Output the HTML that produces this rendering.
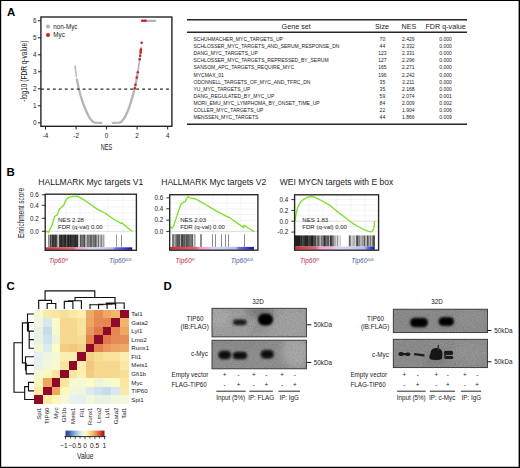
<!DOCTYPE html>
<html><head><meta charset="utf-8"><title>Figure</title>
<style>
html,body{margin:0;padding:0;background:#fff;}
body{width:520px;height:468px;overflow:hidden;font-family:"Liberation Sans",sans-serif;}
svg{display:block;font-family:"Liberation Sans",sans-serif;}
text{fill:#1a1a1a;}
.pl{font-weight:bold;font-size:11.4px;fill:#000;}
.tk{font-size:6.3px;}
.tb{font-size:5.02px;}
.th{font-size:7.2px;}
.tt{font-size:8.5px;}
.sm{font-size:6.05px;}
.hm{font-size:6.15px;}
.bl{font-size:6.3px;}
</style></head><body>
<svg width="520" height="468" viewBox="0 0 520 468">
<defs>
<filter id="b1" x="-30%" y="-60%" width="160%" height="220%"><feGaussianBlur stdDeviation="0.85"/></filter>
<filter id="b4" x="-40%" y="-80%" width="180%" height="260%"><feGaussianBlur stdDeviation="1.5"/></filter>
<filter id="b2" x="-30%" y="-60%" width="160%" height="220%"><feGaussianBlur stdDeviation="0.6"/></filter>
<filter id="b3" x="-30%" y="-60%" width="160%" height="220%"><feGaussianBlur stdDeviation="3"/></filter>
<filter id="nz" x="0" y="0" width="100%" height="100%" color-interpolation-filters="sRGB"><feTurbulence type="fractalNoise" baseFrequency="0.9" numOctaves="2" seed="3" result="n"/><feColorMatrix type="matrix" values="1.6 0 0 0 -0.3  1.6 0 0 0 -0.3  1.6 0 0 0 -0.3  0 0 0 0 0.105"/></filter>
<linearGradient id="cb" x1="0" x2="1" y1="0" y2="0">
<stop offset="0" stop-color="#2a3a8f"/><stop offset="0.1" stop-color="#4068ae"/><stop offset="0.25" stop-color="#8fbcd9"/><stop offset="0.4" stop-color="#dcecf0"/><stop offset="0.5" stop-color="#fdfdc8"/><stop offset="0.62" stop-color="#f8dc90"/><stop offset="0.75" stop-color="#eea35f"/><stop offset="0.88" stop-color="#d4502e"/><stop offset="1" stop-color="#8e0a26"/>
</linearGradient>
<linearGradient id="g1" x1="0" x2="1"><stop offset="0.000" stop-color="#cf2f3a"/><stop offset="0.172" stop-color="#d84a55"/><stop offset="0.325" stop-color="#de6a78"/><stop offset="0.365" stop-color="#eaa2cc"/><stop offset="0.460" stop-color="#eab4dc"/><stop offset="0.500" stop-color="#dccff2"/><stop offset="0.635" stop-color="#cfcff6"/><stop offset="0.770" stop-color="#b8b8f2"/><stop offset="0.810" stop-color="#7070e6"/><stop offset="0.895" stop-color="#4a4ad8"/><stop offset="1.000" stop-color="#0c0ca8"/></linearGradient>
<linearGradient id="g2" x1="0" x2="1"><stop offset="0.000" stop-color="#cf2f3a"/><stop offset="0.170" stop-color="#d84a55"/><stop offset="0.320" stop-color="#de6a78"/><stop offset="0.360" stop-color="#eaa2cc"/><stop offset="0.457" stop-color="#eab4dc"/><stop offset="0.497" stop-color="#dccff2"/><stop offset="0.639" stop-color="#cfcff6"/><stop offset="0.780" stop-color="#b8b8f2"/><stop offset="0.820" stop-color="#7070e6"/><stop offset="0.900" stop-color="#4a4ad8"/><stop offset="1.000" stop-color="#0c0ca8"/></linearGradient>
<linearGradient id="g3" x1="0" x2="1"><stop offset="0.000" stop-color="#cf2f3a"/><stop offset="0.143" stop-color="#d84a55"/><stop offset="0.266" stop-color="#de6a78"/><stop offset="0.306" stop-color="#eaa2cc"/><stop offset="0.470" stop-color="#eab4dc"/><stop offset="0.510" stop-color="#dccff2"/><stop offset="0.690" stop-color="#cfcff6"/><stop offset="0.870" stop-color="#b8b8f2"/><stop offset="0.910" stop-color="#7070e6"/><stop offset="0.945" stop-color="#4a4ad8"/><stop offset="1.000" stop-color="#0c0ca8"/></linearGradient>
</defs>
<rect x="0" y="0" width="520" height="468" fill="#fff"/>

<text class="pl" x="7.0" y="16.4">A</text>
<text class="pl" x="6.6" y="176.3">B</text>
<text class="pl" x="6.6" y="289.6">C</text>
<text class="pl" x="163.6" y="289.6">D</text>
<g fill="none" stroke="#b5b5b5" stroke-width="2.3" stroke-linecap="round" stroke-linejoin="round">
<path d="M76.8,79.4 L77.6,83.1 L78.9,89.0 L80.6,95.5 L82.2,100.7 L84.0,105.8 L86.0,110.8 L88.3,115.6 L90.6,119.3 L92.6,121.6 L94.4,122.6 L101.4,122.8"/>
<path d="M112.7,122.8 L119.6,122.6 L121.6,121.6 L123.4,119.3 L125.7,115.6 L128.0,110.5 L129.7,105.8 L131.3,100.7 L133.0,94.7 L134.7,88.8 L136.1,82.0 L137.4,74.3"/>
<path d="M137.4,74.3 L138.7,66.7 L139.7,59.0 L140.5,53.1 L141.1,47.6" stroke-width="1.7"/>
<path d="M146.3,20.8 L155.2,20.8"/>
</g>
<path d="M75.2,65.9 L75.6,70.9 L76.5,76.6" fill="none" stroke="#b8b8b8" stroke-width="1.5" stroke-linecap="round"/>
<circle cx="134.8" cy="88.2" r="1.25" fill="#cf1f1c"/>
<circle cx="135.5" cy="84.8" r="1.25" fill="#cf1f1c"/>
<circle cx="136.8" cy="77.4" r="1.25" fill="#cf1f1c"/>
<circle cx="137.8" cy="72.3" r="1.25" fill="#cf1f1c"/>
<circle cx="139.7" cy="59.3" r="1.25" fill="#cf1f1c"/>
<circle cx="140.2" cy="55.8" r="1.25" fill="#cf1f1c"/>
<circle cx="140.6" cy="52.7" r="1.25" fill="#cf1f1c"/>
<circle cx="140.7" cy="51.0" r="1.25" fill="#cf1f1c"/>
<circle cx="140.9" cy="49.5" r="1.25" fill="#cf1f1c"/>
<circle cx="141.6" cy="42.8" r="1.25" fill="#cf1f1c"/>
<circle cx="142.2" cy="20.8" r="1.25" fill="#cf1f1c"/>
<circle cx="144.0" cy="20.8" r="1.25" fill="#cf1f1c"/>
<circle cx="145.5" cy="20.8" r="1.25" fill="#cf1f1c"/>
<line x1="41.0" y1="89.0" x2="171.9" y2="89.0" stroke="#2a2a2a" stroke-width="1.25" stroke-dasharray="2.9,3.05"/>
<rect x="40.9" y="17.0" width="131.0" height="109.3" fill="none" stroke="#262626" stroke-width="1.4"/>
<line x1="37.9" y1="122.8" x2="40.9" y2="122.8" stroke="#1a1a1a" stroke-width="1"/>
<text class="tk" x="36.4" y="125.0" text-anchor="end">0</text>
<line x1="37.9" y1="105.8" x2="40.9" y2="105.8" stroke="#1a1a1a" stroke-width="1"/>
<text class="tk" x="36.4" y="108.0" text-anchor="end">1</text>
<line x1="37.9" y1="88.8" x2="40.9" y2="88.8" stroke="#1a1a1a" stroke-width="1"/>
<text class="tk" x="36.4" y="91.0" text-anchor="end">2</text>
<line x1="37.9" y1="71.8" x2="40.9" y2="71.8" stroke="#1a1a1a" stroke-width="1"/>
<text class="tk" x="36.4" y="74.0" text-anchor="end">3</text>
<line x1="37.9" y1="54.8" x2="40.9" y2="54.8" stroke="#1a1a1a" stroke-width="1"/>
<text class="tk" x="36.4" y="57.0" text-anchor="end">4</text>
<line x1="37.9" y1="37.8" x2="40.9" y2="37.8" stroke="#1a1a1a" stroke-width="1"/>
<text class="tk" x="36.4" y="40.0" text-anchor="end">5</text>
<line x1="37.9" y1="20.8" x2="40.9" y2="20.8" stroke="#1a1a1a" stroke-width="1"/>
<text class="tk" x="36.4" y="23.1" text-anchor="end">6</text>
<line x1="45.5" y1="126.3" x2="45.5" y2="129.5" stroke="#1a1a1a" stroke-width="1"/>
<text class="tk" x="45.5" y="137.9" text-anchor="middle">-4</text>
<line x1="76.1" y1="126.3" x2="76.1" y2="129.5" stroke="#1a1a1a" stroke-width="1"/>
<text class="tk" x="76.1" y="137.9" text-anchor="middle">-2</text>
<line x1="106.6" y1="126.3" x2="106.6" y2="129.5" stroke="#1a1a1a" stroke-width="1"/>
<text class="tk" x="106.6" y="137.9" text-anchor="middle">0</text>
<line x1="137.1" y1="126.3" x2="137.1" y2="129.5" stroke="#1a1a1a" stroke-width="1"/>
<text class="tk" x="137.1" y="137.9" text-anchor="middle">2</text>
<line x1="167.7" y1="126.3" x2="167.7" y2="129.5" stroke="#1a1a1a" stroke-width="1"/>
<text class="tk" x="167.7" y="137.9" text-anchor="middle">4</text>
<text x="106.5" y="149.7" text-anchor="middle" font-size="9.1" textLength="11.4" lengthAdjust="spacingAndGlyphs">NES</text>
<text transform="translate(26.6,71.2) rotate(-90)" text-anchor="middle" font-size="8.3" textLength="61" lengthAdjust="spacingAndGlyphs">-log10 (FDR q-value)</text>
<circle cx="48" cy="26.6" r="2.0" fill="#b0b0b0"/>
<circle cx="48" cy="35.1" r="2.0" fill="#d0211c"/>
<text class="tk" x="53.3" y="28.8">non-Myc</text>
<text class="tk" x="53.3" y="37.3">Myc</text>
<line x1="187.0" y1="19.75" x2="467.0" y2="19.75" stroke="#262626" stroke-width="1.5"/>
<line x1="187.0" y1="32.3" x2="467.0" y2="32.3" stroke="#262626" stroke-width="1.4"/>
<line x1="187.0" y1="124.2" x2="467.0" y2="124.2" stroke="#262626" stroke-width="1.5"/>
<text class="th" x="296.2" y="28.5" text-anchor="middle">Gene set</text>
<text class="th" x="382.0" y="28.5" text-anchor="middle">Size</text>
<text class="th" x="408.9" y="28.5" text-anchor="middle">NES</text>
<text class="th" x="445.6" y="28.5" text-anchor="middle">FDR q-value</text>
<text class="tb" x="193.5" y="40.95">SCHUHMACHER_MYC_TARGETS_UP</text>
<text class="tb" x="382.4" y="40.95" text-anchor="middle">70</text>
<text class="tb" x="408.3" y="40.95" text-anchor="middle">2.429</text>
<text class="tb" x="445.5" y="40.95" text-anchor="middle">0.000</text>
<text class="tb" x="193.5" y="48.06">SCHLOSSER_MYC_TARGETS_AND_SERUM_RESPONSE_DN</text>
<text class="tb" x="382.4" y="48.06" text-anchor="middle">44</text>
<text class="tb" x="408.3" y="48.06" text-anchor="middle">2.332</text>
<text class="tb" x="445.5" y="48.06" text-anchor="middle">0.000</text>
<text class="tb" x="193.5" y="55.17">DANG_MYC_TARGETS_UP</text>
<text class="tb" x="382.4" y="55.17" text-anchor="middle">123</text>
<text class="tb" x="408.3" y="55.17" text-anchor="middle">2.331</text>
<text class="tb" x="445.5" y="55.17" text-anchor="middle">0.000</text>
<text class="tb" x="193.5" y="62.28">SCHLOSSER_MYC_TARGETS_REPRESSED_BY_SERUM</text>
<text class="tb" x="382.4" y="62.28" text-anchor="middle">127</text>
<text class="tb" x="408.3" y="62.28" text-anchor="middle">2.296</text>
<text class="tb" x="445.5" y="62.28" text-anchor="middle">0.000</text>
<text class="tb" x="193.5" y="69.39">SANSOM_APC_TARGETS_REQUIRE_MYC</text>
<text class="tb" x="382.4" y="69.39" text-anchor="middle">165</text>
<text class="tb" x="408.3" y="69.39" text-anchor="middle">2.271</text>
<text class="tb" x="445.5" y="69.39" text-anchor="middle">0.000</text>
<text class="tb" x="193.5" y="76.50">MYCMAX_01</text>
<text class="tb" x="382.4" y="76.50" text-anchor="middle">196</text>
<text class="tb" x="408.3" y="76.50" text-anchor="middle">2.242</text>
<text class="tb" x="445.5" y="76.50" text-anchor="middle">0.000</text>
<text class="tb" x="193.5" y="83.61">ODONNELL_TARGETS_OF_MYC_AND_TFRC_DN</text>
<text class="tb" x="382.4" y="83.61" text-anchor="middle">35</text>
<text class="tb" x="408.3" y="83.61" text-anchor="middle">2.211</text>
<text class="tb" x="445.5" y="83.61" text-anchor="middle">0.000</text>
<text class="tb" x="193.5" y="90.72">YU_MYC_TARGETS_UP</text>
<text class="tb" x="382.4" y="90.72" text-anchor="middle">35</text>
<text class="tb" x="408.3" y="90.72" text-anchor="middle">2.168</text>
<text class="tb" x="445.5" y="90.72" text-anchor="middle">0.000</text>
<text class="tb" x="193.5" y="97.83">DANG_REGULATED_BY_MYC_UP</text>
<text class="tb" x="382.4" y="97.83" text-anchor="middle">59</text>
<text class="tb" x="408.3" y="97.83" text-anchor="middle">2.074</text>
<text class="tb" x="445.5" y="97.83" text-anchor="middle">0.001</text>
<text class="tb" x="193.5" y="104.94">MORI_EMU_MYC_LYMPHOMA_BY_ONSET_TIME_UP</text>
<text class="tb" x="382.4" y="104.94" text-anchor="middle">84</text>
<text class="tb" x="408.3" y="104.94" text-anchor="middle">2.009</text>
<text class="tb" x="445.5" y="104.94" text-anchor="middle">0.002</text>
<text class="tb" x="193.5" y="112.05">COLLER_MYC_TARGETS_UP</text>
<text class="tb" x="382.4" y="112.05" text-anchor="middle">22</text>
<text class="tb" x="408.3" y="112.05" text-anchor="middle">1.904</text>
<text class="tb" x="445.5" y="112.05" text-anchor="middle">0.006</text>
<text class="tb" x="193.5" y="119.16">MENSSEN_MYC_TARGETS</text>
<text class="tb" x="382.4" y="119.16" text-anchor="middle">44</text>
<text class="tb" x="408.3" y="119.16" text-anchor="middle">1.866</text>
<text class="tb" x="445.5" y="119.16" text-anchor="middle">0.009</text>
<text class="tt" x="90.8" y="184.5" text-anchor="middle">HALLMARK Myc targets V1</text>
<line x1="66.0" y1="194.2" x2="66.0" y2="233.6" stroke="#ececec" stroke-width="0.6"/>
<line x1="80.0" y1="194.2" x2="80.0" y2="233.6" stroke="#ececec" stroke-width="0.6"/>
<line x1="94.0" y1="194.2" x2="94.0" y2="233.6" stroke="#ececec" stroke-width="0.6"/>
<line x1="108.0" y1="194.2" x2="108.0" y2="233.6" stroke="#ececec" stroke-width="0.6"/>
<line x1="123.0" y1="194.2" x2="123.0" y2="233.6" stroke="#ececec" stroke-width="0.6"/>
<line x1="45.2" y1="200.5" x2="136.4" y2="200.5" stroke="#ececec" stroke-width="0.6"/>
<line x1="45.2" y1="207.0" x2="136.4" y2="207.0" stroke="#ececec" stroke-width="0.6"/>
<line x1="45.2" y1="213.0" x2="136.4" y2="213.0" stroke="#ececec" stroke-width="0.6"/>
<line x1="45.2" y1="219.5" x2="136.4" y2="219.5" stroke="#ececec" stroke-width="0.6"/>
<line x1="45.2" y1="225.5" x2="136.4" y2="225.5" stroke="#ececec" stroke-width="0.6"/>
<line x1="45.2" y1="231.3" x2="136.4" y2="231.3" stroke="#d0d0d0" stroke-width="0.7"/>
<rect x="48" y="234.6" width="1" height="12.8" fill="#909090"/>
<rect x="49" y="234.6" width="1" height="12.8" fill="#a7a7a7"/>
<rect x="50" y="234.6" width="1" height="12.8" fill="#434343"/>
<rect x="51" y="234.6" width="1" height="12.8" fill="#727272"/>
<rect x="52" y="234.6" width="1" height="12.8" fill="#333333"/>
<rect x="53" y="234.6" width="1" height="12.8" fill="#3b3b3b"/>
<rect x="54" y="234.6" width="1" height="12.8" fill="#484848"/>
<rect x="55" y="234.6" width="1" height="12.8" fill="#343434"/>
<rect x="56" y="234.6" width="1" height="12.8" fill="#494949"/>
<rect x="57" y="234.6" width="1" height="12.8" fill="#9f9f9f"/>
<rect x="58" y="234.6" width="1" height="12.8" fill="#c0c0c0"/>
<rect x="59" y="234.6" width="1" height="12.8" fill="#3f3f3f"/>
<rect x="60" y="234.6" width="1" height="12.8" fill="#333333"/>
<rect x="61" y="234.6" width="1" height="12.8" fill="#242424"/>
<rect x="62" y="234.6" width="1" height="12.8" fill="#3e3e3e"/>
<rect x="63" y="234.6" width="1" height="12.8" fill="#3a3a3a"/>
<rect x="64" y="234.6" width="1" height="12.8" fill="#2b2b2b"/>
<rect x="65" y="234.6" width="1" height="12.8" fill="#202020"/>
<rect x="66" y="234.6" width="1" height="12.8" fill="#5e5e5e"/>
<rect x="67" y="234.6" width="1" height="12.8" fill="#313131"/>
<rect x="68" y="234.6" width="1" height="12.8" fill="#1f1f1f"/>
<rect x="69" y="234.6" width="1" height="12.8" fill="#3c3c3c"/>
<rect x="70" y="234.6" width="1" height="12.8" fill="#232323"/>
<rect x="71" y="234.6" width="1" height="12.8" fill="#343434"/>
<rect x="72" y="234.6" width="1" height="12.8" fill="#393939"/>
<rect x="73" y="234.6" width="1" height="12.8" fill="#3a3a3a"/>
<rect x="74" y="234.6" width="1" height="12.8" fill="#343434"/>
<rect x="75" y="234.6" width="1" height="12.8" fill="#242424"/>
<rect x="76" y="234.6" width="1" height="12.8" fill="#383838"/>
<rect x="77" y="234.6" width="1" height="12.8" fill="#2b2b2b"/>
<rect x="78" y="234.6" width="1" height="12.8" fill="#bdbdbd"/>
<rect x="79" y="234.6" width="1" height="12.8" fill="#cfcfcf"/>
<rect x="80" y="234.6" width="1" height="12.8" fill="#535353"/>
<rect x="81" y="234.6" width="1" height="12.8" fill="#747474"/>
<rect x="82" y="234.6" width="1" height="12.8" fill="#747474"/>
<rect x="83" y="234.6" width="1" height="12.8" fill="#6a6a6a"/>
<rect x="84" y="234.6" width="1" height="12.8" fill="#4a4a4a"/>
<rect x="85" y="234.6" width="1" height="12.8" fill="#ababab"/>
<rect x="86" y="234.6" width="1" height="12.8" fill="#b5b5b5"/>
<rect x="87" y="234.6" width="1" height="12.8" fill="#707070"/>
<rect x="88" y="234.6" width="1" height="12.8" fill="#7c7c7c"/>
<rect x="89" y="234.6" width="1" height="12.8" fill="#8a8a8a"/>
<rect x="90" y="234.6" width="1" height="12.8" fill="#5d5d5d"/>
<rect x="91" y="234.6" width="1" height="12.8" fill="#666666"/>
<rect x="92" y="234.6" width="1" height="12.8" fill="#8f8f8f"/>
<rect x="93" y="234.6" width="1" height="12.8" fill="#717171"/>
<rect x="94" y="234.6" width="1" height="12.8" fill="#767676"/>
<rect x="95" y="234.6" width="1" height="12.8" fill="#565656"/>
<rect x="96" y="234.6" width="1" height="12.8" fill="#878787"/>
<rect x="97" y="234.6" width="1" height="12.8" fill="#b8b8b8"/>
<rect x="98" y="234.6" width="1" height="12.8" fill="#6a6a6a"/>
<rect x="99" y="234.6" width="1" height="12.8" fill="#cbcbcb"/>
<rect x="100" y="234.6" width="1" height="12.8" fill="#a9a9a9"/>
<rect x="101" y="234.6" width="1" height="12.8" fill="#838383"/>
<rect x="102" y="234.6" width="1" height="12.8" fill="#c7c7c7"/>
<rect x="103" y="234.6" width="1" height="12.8" fill="#a1a1a1"/>
<rect x="104" y="234.6" width="1" height="12.8" fill="#d4d4d4"/>
<rect x="116" y="234.6" width="1" height="12.8" fill="#9a9a9a"/>
<rect x="121" y="234.6" width="1" height="12.8" fill="#8e8e8e"/>
<rect x="45.6" y="247.3" width="86.6" height="2.6" fill="url(#g1)"/>
<path d="M45.9,231.9 L47.4,231.4 L48.6,232.4 L49.8,229.5 L51.2,227.1 L52.7,222.8 L54.1,218.0 L55.1,216.0 L57.0,215.1 L57.9,212.7 L59.4,209.3 L61.8,206.9 L63.7,205.5 L64.7,202.6 L66.6,199.2 L69.0,197.3 L72.8,196.3 L77.2,196.1 L79.6,197.3 L84.4,200.2 L89.2,203.5 L94.0,206.9 L98.0,209.6 L102.0,211.6 L105.0,213.0 L110.0,216.6 L115.0,220.0 L119.0,222.0 L121.0,223.4 L122.0,223.0 L124.0,224.8 L128.0,228.0 L132.2,231.2" fill="none" stroke="#7ce02c" stroke-width="1.35" stroke-linejoin="round"/>
<rect x="45.2" y="194.2" width="91.2" height="56.1" fill="none" stroke="#242424" stroke-width="1.35"/>
<line x1="41.9" y1="194.8" x2="45.2" y2="194.8" stroke="#1a1a1a" stroke-width="0.9"/>
<text class="tk" x="38.8" y="197.1" text-anchor="end">0.6</text>
<line x1="41.9" y1="205.3" x2="45.2" y2="205.3" stroke="#1a1a1a" stroke-width="0.9"/>
<text class="tk" x="38.8" y="207.6" text-anchor="end">0.4</text>
<line x1="41.9" y1="218.3" x2="45.2" y2="218.3" stroke="#1a1a1a" stroke-width="0.9"/>
<text class="tk" x="38.8" y="220.6" text-anchor="end">0.2</text>
<line x1="41.9" y1="231.3" x2="45.2" y2="231.3" stroke="#1a1a1a" stroke-width="0.9"/>
<text class="tk" x="38.8" y="233.6" text-anchor="end">0.0</text>
<text class="sm" x="58.0" y="221.6">NES 2.28</text>
<text class="sm" x="58.0" y="229.2">FDR (q-val) 0.00</text>
<text x="58.5" y="263" text-anchor="middle" font-size="6.45" font-style="italic" style="fill:#c4244a">Tip60<tspan font-size="3.7" dy="-2.4">f/f</tspan></text>
<text x="120.5" y="263" text-anchor="middle" font-size="6.45" font-style="italic" style="fill:#3d59a2">Tip60<tspan font-size="4.0" dy="-2.4">Δ/Δ</tspan></text>
<text transform="translate(23.5,213) rotate(-90)" text-anchor="middle" font-size="9" textLength="50" lengthAdjust="spacingAndGlyphs">Enrichment score</text>
<text class="tt" x="213.7" y="184.5" text-anchor="middle">HALLMARK Myc targets V2</text>
<line x1="185.0" y1="194.7" x2="185.0" y2="233.2" stroke="#ececec" stroke-width="0.6"/>
<line x1="199.0" y1="194.7" x2="199.0" y2="233.2" stroke="#ececec" stroke-width="0.6"/>
<line x1="213.0" y1="194.7" x2="213.0" y2="233.2" stroke="#ececec" stroke-width="0.6"/>
<line x1="227.0" y1="194.7" x2="227.0" y2="233.2" stroke="#ececec" stroke-width="0.6"/>
<line x1="241.0" y1="194.7" x2="241.0" y2="233.2" stroke="#ececec" stroke-width="0.6"/>
<line x1="169.7" y1="203.0" x2="257.9" y2="203.0" stroke="#ececec" stroke-width="0.6"/>
<line x1="169.7" y1="209.0" x2="257.9" y2="209.0" stroke="#ececec" stroke-width="0.6"/>
<line x1="169.7" y1="214.5" x2="257.9" y2="214.5" stroke="#ececec" stroke-width="0.6"/>
<line x1="169.7" y1="220.3" x2="257.9" y2="220.3" stroke="#ececec" stroke-width="0.6"/>
<line x1="169.7" y1="226.0" x2="257.9" y2="226.0" stroke="#ececec" stroke-width="0.6"/>
<line x1="169.7" y1="231.4" x2="257.9" y2="231.4" stroke="#d0d0d0" stroke-width="0.7"/>
<rect x="172" y="234.2" width="1" height="12.8" fill="#7f7f7f"/>
<rect x="173" y="234.2" width="1" height="12.8" fill="#777777"/>
<rect x="174" y="234.2" width="1" height="12.8" fill="#a9a9a9"/>
<rect x="175" y="234.2" width="1" height="12.8" fill="#8e8e8e"/>
<rect x="176" y="234.2" width="1" height="12.8" fill="#6e6e6e"/>
<rect x="177" y="234.2" width="1" height="12.8" fill="#545454"/>
<rect x="178" y="234.2" width="1" height="12.8" fill="#5b5b5b"/>
<rect x="179" y="234.2" width="1" height="12.8" fill="#5c5c5c"/>
<rect x="180" y="234.2" width="1" height="12.8" fill="#a7a7a7"/>
<rect x="181" y="234.2" width="1" height="12.8" fill="#4b4b4b"/>
<rect x="182" y="234.2" width="1" height="12.8" fill="#434343"/>
<rect x="183" y="234.2" width="1" height="12.8" fill="#636363"/>
<rect x="184" y="234.2" width="1" height="12.8" fill="#565656"/>
<rect x="185" y="234.2" width="1" height="12.8" fill="#7f7f7f"/>
<rect x="186" y="234.2" width="1" height="12.8" fill="#545454"/>
<rect x="187" y="234.2" width="1" height="12.8" fill="#585858"/>
<rect x="188" y="234.2" width="1" height="12.8" fill="#626262"/>
<rect x="189" y="234.2" width="1" height="12.8" fill="#717171"/>
<rect x="190" y="234.2" width="1" height="12.8" fill="#7b7b7b"/>
<rect x="191" y="234.2" width="1" height="12.8" fill="#747474"/>
<rect x="192" y="234.2" width="1" height="12.8" fill="#616161"/>
<rect x="193" y="234.2" width="1" height="12.8" fill="#dadada"/>
<rect x="194" y="234.2" width="1" height="12.8" fill="#a9a9a9"/>
<rect x="195" y="234.2" width="1" height="12.8" fill="#cacaca"/>
<rect x="200" y="234.2" width="1" height="12.8" fill="#8e8e8e"/>
<rect x="201" y="234.2" width="1" height="12.8" fill="#8e8e8e"/>
<rect x="212" y="234.2" width="1" height="12.8" fill="#8e8e8e"/>
<rect x="215" y="234.2" width="1" height="12.8" fill="#8e8e8e"/>
<rect x="221" y="234.2" width="1" height="12.8" fill="#8e8e8e"/>
<rect x="225" y="234.2" width="1" height="12.8" fill="#8e8e8e"/>
<rect x="228" y="234.2" width="1" height="12.8" fill="#8e8e8e"/>
<rect x="244" y="234.2" width="1" height="12.8" fill="#8e8e8e"/>
<rect x="170.1" y="246.9" width="83.8" height="2.9" fill="url(#g2)"/>
<path d="M170.3,226.8 L172.2,228.5 L173.7,225.7 L175.6,219.9 L177.5,214.1 L179.5,208.3 L180.9,204.5 L182.8,202.6 L185.2,201.6 L186.7,198.2 L188.1,196.8 L191.0,198.2 L194.8,198.7 L198.7,200.7 L204.5,204.0 L210.2,207.4 L216.0,210.8 L221.0,213.4 L226.5,216.3 L229.5,217.5 L233.0,220.0 L238.0,223.6 L241.5,226.0 L243.6,227.6 L243.9,225.3 L247.0,227.2 L250.0,229.2 L254.1,231.7" fill="none" stroke="#7ce02c" stroke-width="1.35" stroke-linejoin="round"/>
<rect x="169.7" y="194.7" width="88.2" height="55.5" fill="none" stroke="#242424" stroke-width="1.35"/>
<line x1="166.3" y1="197.8" x2="169.7" y2="197.8" stroke="#1a1a1a" stroke-width="0.9"/>
<text class="tk" x="163.2" y="200.1" text-anchor="end">0.6</text>
<line x1="166.3" y1="208.8" x2="169.7" y2="208.8" stroke="#1a1a1a" stroke-width="0.9"/>
<text class="tk" x="163.2" y="211.1" text-anchor="end">0.4</text>
<line x1="166.3" y1="220.1" x2="169.7" y2="220.1" stroke="#1a1a1a" stroke-width="0.9"/>
<text class="tk" x="163.2" y="222.4" text-anchor="end">0.2</text>
<line x1="166.3" y1="231.4" x2="169.7" y2="231.4" stroke="#1a1a1a" stroke-width="0.9"/>
<text class="tk" x="163.2" y="233.7" text-anchor="end">0.0</text>
<text class="sm" x="180.2" y="221.6">NES 2.03</text>
<text class="sm" x="180.2" y="229.2">FDR (q-val) 0.00</text>
<text x="185.0" y="263" text-anchor="middle" font-size="6.45" font-style="italic" style="fill:#c4244a">Tip60<tspan font-size="3.7" dy="-2.4">f/f</tspan></text>
<text x="242.0" y="263" text-anchor="middle" font-size="6.45" font-style="italic" style="fill:#3d59a2">Tip60<tspan font-size="4.0" dy="-2.4">Δ/Δ</tspan></text>
<text class="tt" x="336.5" y="184.5" text-anchor="middle">WEI MYCN targets with E box</text>
<line x1="309.0" y1="194.8" x2="309.0" y2="234.4" stroke="#ececec" stroke-width="0.6"/>
<line x1="323.0" y1="194.8" x2="323.0" y2="234.4" stroke="#ececec" stroke-width="0.6"/>
<line x1="337.0" y1="194.8" x2="337.0" y2="234.4" stroke="#ececec" stroke-width="0.6"/>
<line x1="351.0" y1="194.8" x2="351.0" y2="234.4" stroke="#ececec" stroke-width="0.6"/>
<line x1="365.0" y1="194.8" x2="365.0" y2="234.4" stroke="#ececec" stroke-width="0.6"/>
<line x1="294.6" y1="199.6" x2="378.6" y2="199.6" stroke="#ececec" stroke-width="0.6"/>
<line x1="294.6" y1="205.0" x2="378.6" y2="205.0" stroke="#ececec" stroke-width="0.6"/>
<line x1="294.6" y1="210.4" x2="378.6" y2="210.4" stroke="#ececec" stroke-width="0.6"/>
<line x1="294.6" y1="215.8" x2="378.6" y2="215.8" stroke="#ececec" stroke-width="0.6"/>
<line x1="294.6" y1="226.6" x2="378.6" y2="226.6" stroke="#ececec" stroke-width="0.6"/>
<line x1="294.6" y1="232.0" x2="378.6" y2="232.0" stroke="#ececec" stroke-width="0.6"/>
<line x1="294.6" y1="221.2" x2="378.6" y2="221.2" stroke="#d0d0d0" stroke-width="0.7"/>
<rect x="295" y="235.4" width="1" height="11.2" fill="#1e1e1e"/>
<rect x="296" y="235.4" width="1" height="11.2" fill="#1e1e1e"/>
<rect x="297" y="235.4" width="1" height="11.2" fill="#1e1e1e"/>
<rect x="298" y="235.4" width="1" height="11.2" fill="#1e1e1e"/>
<rect x="299" y="235.4" width="1" height="11.2" fill="#1e1e1e"/>
<rect x="300" y="235.4" width="1" height="11.2" fill="#3f3f3f"/>
<rect x="301" y="235.4" width="1" height="11.2" fill="#252525"/>
<rect x="302" y="235.4" width="1" height="11.2" fill="#505050"/>
<rect x="303" y="235.4" width="1" height="11.2" fill="#3c3c3c"/>
<rect x="304" y="235.4" width="1" height="11.2" fill="#363636"/>
<rect x="305" y="235.4" width="1" height="11.2" fill="#242424"/>
<rect x="306" y="235.4" width="1" height="11.2" fill="#282828"/>
<rect x="307" y="235.4" width="1" height="11.2" fill="#252525"/>
<rect x="308" y="235.4" width="1" height="11.2" fill="#454545"/>
<rect x="309" y="235.4" width="1" height="11.2" fill="#3e3e3e"/>
<rect x="310" y="235.4" width="1" height="11.2" fill="#414141"/>
<rect x="311" y="235.4" width="1" height="11.2" fill="#242424"/>
<rect x="312" y="235.4" width="1" height="11.2" fill="#202020"/>
<rect x="313" y="235.4" width="1" height="11.2" fill="#4c4c4c"/>
<rect x="314" y="235.4" width="1" height="11.2" fill="#4a4a4a"/>
<rect x="315" y="235.4" width="1" height="11.2" fill="#474747"/>
<rect x="316" y="235.4" width="1" height="11.2" fill="#919191"/>
<rect x="317" y="235.4" width="1" height="11.2" fill="#6f6f6f"/>
<rect x="318" y="235.4" width="1" height="11.2" fill="#616161"/>
<rect x="319" y="235.4" width="1" height="11.2" fill="#8d8d8d"/>
<rect x="320" y="235.4" width="1" height="11.2" fill="#afafaf"/>
<rect x="321" y="235.4" width="1" height="11.2" fill="#787878"/>
<rect x="322" y="235.4" width="1" height="11.2" fill="#7e7e7e"/>
<rect x="323" y="235.4" width="1" height="11.2" fill="#646464"/>
<rect x="324" y="235.4" width="1" height="11.2" fill="#303030"/>
<rect x="325" y="235.4" width="1" height="11.2" fill="#535353"/>
<rect x="326" y="235.4" width="1" height="11.2" fill="#6b6b6b"/>
<rect x="327" y="235.4" width="1" height="11.2" fill="#5d5d5d"/>
<rect x="328" y="235.4" width="1" height="11.2" fill="#555555"/>
<rect x="329" y="235.4" width="1" height="11.2" fill="#a9a9a9"/>
<rect x="330" y="235.4" width="1" height="11.2" fill="#373737"/>
<rect x="331" y="235.4" width="1" height="11.2" fill="#474747"/>
<rect x="332" y="235.4" width="1" height="11.2" fill="#727272"/>
<rect x="333" y="235.4" width="1" height="11.2" fill="#7d7d7d"/>
<rect x="334" y="235.4" width="1" height="11.2" fill="#b3b3b3"/>
<rect x="335" y="235.4" width="1" height="11.2" fill="#b2b2b2"/>
<rect x="336" y="235.4" width="1" height="11.2" fill="#dadada"/>
<rect x="337" y="235.4" width="1" height="11.2" fill="#939393"/>
<rect x="338" y="235.4" width="1" height="11.2" fill="#e0e0e0"/>
<rect x="339" y="235.4" width="1" height="11.2" fill="#dfdfdf"/>
<rect x="340" y="235.4" width="1" height="11.2" fill="#cccccc"/>
<rect x="348" y="235.4" width="1" height="11.2" fill="#e4e4e4"/>
<rect x="349" y="235.4" width="1" height="11.2" fill="#5f5f5f"/>
<rect x="350" y="235.4" width="1" height="11.2" fill="#888888"/>
<rect x="351" y="235.4" width="1" height="11.2" fill="#d1d1d1"/>
<rect x="352" y="235.4" width="1" height="11.2" fill="#c0c0c0"/>
<rect x="353" y="235.4" width="1" height="11.2" fill="#b1b1b1"/>
<rect x="354" y="235.4" width="1" height="11.2" fill="#afafaf"/>
<rect x="355" y="235.4" width="1" height="11.2" fill="#d5d5d5"/>
<rect x="356" y="235.4" width="1" height="11.2" fill="#636363"/>
<rect x="357" y="235.4" width="1" height="11.2" fill="#4c4c4c"/>
<rect x="358" y="235.4" width="1" height="11.2" fill="#878787"/>
<rect x="359" y="235.4" width="1" height="11.2" fill="#858585"/>
<rect x="360" y="235.4" width="1" height="11.2" fill="#b2b2b2"/>
<rect x="361" y="235.4" width="1" height="11.2" fill="#b0b0b0"/>
<rect x="362" y="235.4" width="1" height="11.2" fill="#959595"/>
<rect x="363" y="235.4" width="1" height="11.2" fill="#9d9d9d"/>
<rect x="364" y="235.4" width="1" height="11.2" fill="#5e5e5e"/>
<rect x="365" y="235.4" width="1" height="11.2" fill="#a9a9a9"/>
<rect x="366" y="235.4" width="1" height="11.2" fill="#b9b9b9"/>
<rect x="367" y="235.4" width="1" height="11.2" fill="#505050"/>
<rect x="368" y="235.4" width="1" height="11.2" fill="#808080"/>
<rect x="369" y="235.4" width="1" height="11.2" fill="#ababab"/>
<rect x="370" y="235.4" width="1" height="11.2" fill="#7e7e7e"/>
<rect x="371" y="235.4" width="1" height="11.2" fill="#b8b8b8"/>
<rect x="372" y="235.4" width="1" height="11.2" fill="#808080"/>
<rect x="373" y="235.4" width="1" height="11.2" fill="#4d4d4d"/>
<rect x="374" y="235.4" width="1" height="11.2" fill="#5a5a5a"/>
<rect x="295.0" y="246.5" width="79.7" height="3.3" fill="url(#g3)"/>
<path d="M295.2,220.8 L295.9,215.0 L297.1,209.2 L298.8,205.4 L300.7,202.0 L304.0,199.1 L307.9,197.2 L310.8,196.5 L314.6,197.2 L318.5,199.1 L323.3,201.5 L330.0,205.4 L335.8,210.2 L341.5,214.8 L347.3,219.3 L353.1,223.7 L358.8,227.0 L364.6,229.9 L368.5,231.3 L371.3,231.8 L372.8,230.4 L374.0,228.0 L374.4,224.6 L374.5,221.0" fill="none" stroke="#7ce02c" stroke-width="1.35" stroke-linejoin="round"/>
<rect x="294.6" y="194.8" width="84.0" height="55.4" fill="none" stroke="#242424" stroke-width="1.35"/>
<line x1="291.3" y1="199.6" x2="294.6" y2="199.6" stroke="#1a1a1a" stroke-width="0.9"/>
<text class="tk" x="288.2" y="201.9" text-anchor="end">0.4</text>
<line x1="291.3" y1="210.4" x2="294.6" y2="210.4" stroke="#1a1a1a" stroke-width="0.9"/>
<text class="tk" x="288.2" y="212.7" text-anchor="end">0.2</text>
<line x1="291.3" y1="221.2" x2="294.6" y2="221.2" stroke="#1a1a1a" stroke-width="0.9"/>
<text class="tk" x="288.2" y="223.6" text-anchor="end">0.0</text>
<line x1="291.3" y1="232.1" x2="294.6" y2="232.1" stroke="#1a1a1a" stroke-width="0.9"/>
<text class="tk" x="288.2" y="234.4" text-anchor="end">-0.2</text>
<text class="sm" x="302.3" y="221.6">NES 1.83</text>
<text class="sm" x="302.3" y="229.2">FDR (q-val) 0.00</text>
<text x="309.5" y="263" text-anchor="middle" font-size="6.45" font-style="italic" style="fill:#c4244a">Tip60<tspan font-size="3.7" dy="-2.4">f/f</tspan></text>
<text x="362.5" y="263" text-anchor="middle" font-size="6.45" font-style="italic" style="fill:#3d59a2">Tip60<tspan font-size="4.0" dy="-2.4">Δ/Δ</tspan></text>
<g shape-rendering="crispEdges">
<rect x="34.40" y="309.70" width="8.60" height="8.60" fill="#f5f8d8"/>
<rect x="42.95" y="309.70" width="8.60" height="8.60" fill="#fbe9a8"/>
<rect x="51.50" y="309.70" width="8.60" height="8.60" fill="#fbe6a0"/>
<rect x="60.05" y="309.70" width="8.60" height="8.60" fill="#f9e09a"/>
<rect x="68.60" y="309.70" width="8.60" height="8.60" fill="#fae8a5"/>
<rect x="77.15" y="309.70" width="8.60" height="8.60" fill="#fbeeb0"/>
<rect x="85.70" y="309.70" width="8.60" height="8.60" fill="#eeab66"/>
<rect x="94.25" y="309.70" width="8.60" height="8.60" fill="#e88d55"/>
<rect x="102.80" y="309.70" width="8.60" height="8.60" fill="#efa862"/>
<rect x="111.35" y="309.70" width="8.60" height="8.60" fill="#f1b56c"/>
<rect x="119.90" y="309.70" width="8.60" height="8.60" fill="#8e0a28"/>
<rect x="34.40" y="318.25" width="8.60" height="8.60" fill="#f1f6dc"/>
<rect x="42.95" y="318.25" width="8.60" height="8.60" fill="#d8e8ef"/>
<rect x="51.50" y="318.25" width="8.60" height="8.60" fill="#fbfbc8"/>
<rect x="60.05" y="318.25" width="8.60" height="8.60" fill="#f6d88e"/>
<rect x="68.60" y="318.25" width="8.60" height="8.60" fill="#f6d88e"/>
<rect x="77.15" y="318.25" width="8.60" height="8.60" fill="#f8e29c"/>
<rect x="85.70" y="318.25" width="8.60" height="8.60" fill="#eca562"/>
<rect x="94.25" y="318.25" width="8.60" height="8.60" fill="#e58a52"/>
<rect x="102.80" y="318.25" width="8.60" height="8.60" fill="#e5864f"/>
<rect x="111.35" y="318.25" width="8.60" height="8.60" fill="#8e0a28"/>
<rect x="119.90" y="318.25" width="8.60" height="8.60" fill="#f1b56c"/>
<rect x="34.40" y="326.80" width="8.60" height="8.60" fill="#e9f2e2"/>
<rect x="42.95" y="326.80" width="8.60" height="8.60" fill="#c5ddea"/>
<rect x="51.50" y="326.80" width="8.60" height="8.60" fill="#f5f8d0"/>
<rect x="60.05" y="326.80" width="8.60" height="8.60" fill="#f6d88e"/>
<rect x="68.60" y="326.80" width="8.60" height="8.60" fill="#f6d88e"/>
<rect x="77.15" y="326.80" width="8.60" height="8.60" fill="#f8e29c"/>
<rect x="85.70" y="326.80" width="8.60" height="8.60" fill="#e99a5a"/>
<rect x="94.25" y="326.80" width="8.60" height="8.60" fill="#e07848"/>
<rect x="102.80" y="326.80" width="8.60" height="8.60" fill="#8e0a28"/>
<rect x="111.35" y="326.80" width="8.60" height="8.60" fill="#e5864f"/>
<rect x="119.90" y="326.80" width="8.60" height="8.60" fill="#efa862"/>
<rect x="34.40" y="335.35" width="8.60" height="8.60" fill="#e9f2e2"/>
<rect x="42.95" y="335.35" width="8.60" height="8.60" fill="#cfe3ec"/>
<rect x="51.50" y="335.35" width="8.60" height="8.60" fill="#f0f5d8"/>
<rect x="60.05" y="335.35" width="8.60" height="8.60" fill="#f6d88e"/>
<rect x="68.60" y="335.35" width="8.60" height="8.60" fill="#f6d88e"/>
<rect x="77.15" y="335.35" width="8.60" height="8.60" fill="#f7dc94"/>
<rect x="85.70" y="335.35" width="8.60" height="8.60" fill="#e3844e"/>
<rect x="94.25" y="335.35" width="8.60" height="8.60" fill="#8e0a28"/>
<rect x="102.80" y="335.35" width="8.60" height="8.60" fill="#e07848"/>
<rect x="111.35" y="335.35" width="8.60" height="8.60" fill="#e58a52"/>
<rect x="119.90" y="335.35" width="8.60" height="8.60" fill="#e88d55"/>
<rect x="34.40" y="343.90" width="8.60" height="8.60" fill="#f3f7d8"/>
<rect x="42.95" y="343.90" width="8.60" height="8.60" fill="#dcebef"/>
<rect x="51.50" y="343.90" width="8.60" height="8.60" fill="#fcfcc5"/>
<rect x="60.05" y="343.90" width="8.60" height="8.60" fill="#f4cc82"/>
<rect x="68.60" y="343.90" width="8.60" height="8.60" fill="#f3c87e"/>
<rect x="77.15" y="343.90" width="8.60" height="8.60" fill="#f5d088"/>
<rect x="85.70" y="343.90" width="8.60" height="8.60" fill="#8e0a28"/>
<rect x="94.25" y="343.90" width="8.60" height="8.60" fill="#e3844e"/>
<rect x="102.80" y="343.90" width="8.60" height="8.60" fill="#e99a5a"/>
<rect x="111.35" y="343.90" width="8.60" height="8.60" fill="#eca562"/>
<rect x="119.90" y="343.90" width="8.60" height="8.60" fill="#eeab66"/>
<rect x="34.40" y="352.45" width="8.60" height="8.60" fill="#e4eff0"/>
<rect x="42.95" y="352.45" width="8.60" height="8.60" fill="#eef5e0"/>
<rect x="51.50" y="352.45" width="8.60" height="8.60" fill="#f5f8d5"/>
<rect x="60.05" y="352.45" width="8.60" height="8.60" fill="#fcf0b0"/>
<rect x="68.60" y="352.45" width="8.60" height="8.60" fill="#fbeeb0"/>
<rect x="77.15" y="352.45" width="8.60" height="8.60" fill="#8e0a28"/>
<rect x="85.70" y="352.45" width="8.60" height="8.60" fill="#f5d088"/>
<rect x="94.25" y="352.45" width="8.60" height="8.60" fill="#f7dc94"/>
<rect x="102.80" y="352.45" width="8.60" height="8.60" fill="#f8e29c"/>
<rect x="111.35" y="352.45" width="8.60" height="8.60" fill="#f8e29c"/>
<rect x="119.90" y="352.45" width="8.60" height="8.60" fill="#fbeeb0"/>
<rect x="34.40" y="361.00" width="8.60" height="8.60" fill="#e8f1ea"/>
<rect x="42.95" y="361.00" width="8.60" height="8.60" fill="#f0f6dc"/>
<rect x="51.50" y="361.00" width="8.60" height="8.60" fill="#f8f9cc"/>
<rect x="60.05" y="361.00" width="8.60" height="8.60" fill="#fae5a0"/>
<rect x="68.60" y="361.00" width="8.60" height="8.60" fill="#8e0a28"/>
<rect x="77.15" y="361.00" width="8.60" height="8.60" fill="#fbeeb0"/>
<rect x="85.70" y="361.00" width="8.60" height="8.60" fill="#f3c87e"/>
<rect x="94.25" y="361.00" width="8.60" height="8.60" fill="#f6d88e"/>
<rect x="102.80" y="361.00" width="8.60" height="8.60" fill="#f6d88e"/>
<rect x="111.35" y="361.00" width="8.60" height="8.60" fill="#f6d88e"/>
<rect x="119.90" y="361.00" width="8.60" height="8.60" fill="#fae8a5"/>
<rect x="34.40" y="369.55" width="8.60" height="8.60" fill="#f5f8d5"/>
<rect x="42.95" y="369.55" width="8.60" height="8.60" fill="#fdf8b8"/>
<rect x="51.50" y="369.55" width="8.60" height="8.60" fill="#fae5a0"/>
<rect x="60.05" y="369.55" width="8.60" height="8.60" fill="#8e0a28"/>
<rect x="68.60" y="369.55" width="8.60" height="8.60" fill="#fae5a0"/>
<rect x="77.15" y="369.55" width="8.60" height="8.60" fill="#fcf0b0"/>
<rect x="85.70" y="369.55" width="8.60" height="8.60" fill="#f4cc82"/>
<rect x="94.25" y="369.55" width="8.60" height="8.60" fill="#f6d88e"/>
<rect x="102.80" y="369.55" width="8.60" height="8.60" fill="#f6d88e"/>
<rect x="111.35" y="369.55" width="8.60" height="8.60" fill="#f6d88e"/>
<rect x="119.90" y="369.55" width="8.60" height="8.60" fill="#f9e09a"/>
<rect x="34.40" y="378.10" width="8.60" height="8.60" fill="#fdf6b6"/>
<rect x="42.95" y="378.10" width="8.60" height="8.60" fill="#eda660"/>
<rect x="51.50" y="378.10" width="8.60" height="8.60" fill="#8e0a28"/>
<rect x="60.05" y="378.10" width="8.60" height="8.60" fill="#fae5a0"/>
<rect x="68.60" y="378.10" width="8.60" height="8.60" fill="#f8f9cc"/>
<rect x="77.15" y="378.10" width="8.60" height="8.60" fill="#f5f8d5"/>
<rect x="85.70" y="378.10" width="8.60" height="8.60" fill="#fcfcc5"/>
<rect x="94.25" y="378.10" width="8.60" height="8.60" fill="#f0f5d8"/>
<rect x="102.80" y="378.10" width="8.60" height="8.60" fill="#f5f8d0"/>
<rect x="111.35" y="378.10" width="8.60" height="8.60" fill="#fbfbc8"/>
<rect x="119.90" y="378.10" width="8.60" height="8.60" fill="#fbe6a0"/>
<rect x="34.40" y="386.65" width="8.60" height="8.60" fill="#fbe9a6"/>
<rect x="42.95" y="386.65" width="8.60" height="8.60" fill="#8e0a28"/>
<rect x="51.50" y="386.65" width="8.60" height="8.60" fill="#eda660"/>
<rect x="60.05" y="386.65" width="8.60" height="8.60" fill="#fdf8b8"/>
<rect x="68.60" y="386.65" width="8.60" height="8.60" fill="#f0f6dc"/>
<rect x="77.15" y="386.65" width="8.60" height="8.60" fill="#eef5e0"/>
<rect x="85.70" y="386.65" width="8.60" height="8.60" fill="#dcebef"/>
<rect x="94.25" y="386.65" width="8.60" height="8.60" fill="#cfe3ec"/>
<rect x="102.80" y="386.65" width="8.60" height="8.60" fill="#c5ddea"/>
<rect x="111.35" y="386.65" width="8.60" height="8.60" fill="#d8e8ef"/>
<rect x="119.90" y="386.65" width="8.60" height="8.60" fill="#fbe9a8"/>
<rect x="34.40" y="395.20" width="8.60" height="8.60" fill="#8e0a28"/>
<rect x="42.95" y="395.20" width="8.60" height="8.60" fill="#fbe9a6"/>
<rect x="51.50" y="395.20" width="8.60" height="8.60" fill="#fdf6b6"/>
<rect x="60.05" y="395.20" width="8.60" height="8.60" fill="#f5f8d5"/>
<rect x="68.60" y="395.20" width="8.60" height="8.60" fill="#e8f1ea"/>
<rect x="77.15" y="395.20" width="8.60" height="8.60" fill="#e4eff0"/>
<rect x="85.70" y="395.20" width="8.60" height="8.60" fill="#f3f7d8"/>
<rect x="94.25" y="395.20" width="8.60" height="8.60" fill="#e9f2e2"/>
<rect x="102.80" y="395.20" width="8.60" height="8.60" fill="#e9f2e2"/>
<rect x="111.35" y="395.20" width="8.60" height="8.60" fill="#f1f6dc"/>
<rect x="119.90" y="395.20" width="8.60" height="8.60" fill="#f5f8d8"/>
</g>
<text class="hm" x="131.3" y="316.1">Tal1</text>
<text class="hm" x="131.3" y="324.6">Gata2</text>
<text class="hm" x="131.3" y="333.2">Lyl1</text>
<text class="hm" x="131.3" y="341.7">Lmo2</text>
<text class="hm" x="131.3" y="350.3">Runx1</text>
<text class="hm" x="131.3" y="358.8">Fli1</text>
<text class="hm" x="131.3" y="367.4">Meis1</text>
<text class="hm" x="131.3" y="375.9">Gfi1b</text>
<text class="hm" x="131.3" y="384.5">Myc</text>
<text class="hm" x="131.3" y="393.0">TIP60</text>
<text class="hm" x="131.3" y="401.6">Spi1</text>
<text class="hm" transform="translate(40.8,407.5) rotate(-90)" text-anchor="end">Spi1</text>
<text class="hm" transform="translate(49.3,407.5) rotate(-90)" text-anchor="end">TIP60</text>
<text class="hm" transform="translate(57.9,407.5) rotate(-90)" text-anchor="end">Myc</text>
<text class="hm" transform="translate(66.4,407.5) rotate(-90)" text-anchor="end">Gfi1b</text>
<text class="hm" transform="translate(75.0,407.5) rotate(-90)" text-anchor="end">Meis1</text>
<text class="hm" transform="translate(83.5,407.5) rotate(-90)" text-anchor="end">Fli1</text>
<text class="hm" transform="translate(92.1,407.5) rotate(-90)" text-anchor="end">Runx1</text>
<text class="hm" transform="translate(100.6,407.5) rotate(-90)" text-anchor="end">Lmo2</text>
<text class="hm" transform="translate(109.2,407.5) rotate(-90)" text-anchor="end">Lyl1</text>
<text class="hm" transform="translate(117.7,407.5) rotate(-90)" text-anchor="end">Gata2</text>
<text class="hm" transform="translate(126.3,407.5) rotate(-90)" text-anchor="end">Tal1</text>
<path d="M38.7,308.3 L38.7,300.4 M47.2,308.3 L47.2,303.5 M55.8,308.3 L55.8,303.5 M47.2,303.5 L55.8,303.5 M51.5,303.5 L51.5,300.4 M38.7,300.4 L51.5,300.4 M45.1,300.4 L45.1,290.8 M45.1,290.8 L94.8,290.8 M94.8,290.8 L94.8,297.5 M64.3,308.3 L64.3,301.3 M72.9,308.3 L72.9,301.3 M64.3,301.3 L72.9,301.3 M68.6,301.3 L68.6,300.7 M68.6,300.7 L81.4,300.7 M81.4,300.7 L81.4,308.3 M75.0,300.7 L75.0,297.5 M75.0,297.5 L115.0,297.5 M115.0,297.5 L115.0,303.0 M124.2,308.3 L124.2,303.0 M106.3,303.0 L124.2,303.0 M106.3,303.0 L106.3,304.4 M90.0,308.3 L90.0,304.6 M98.5,308.3 L98.5,304.6 M107.1,308.3 L107.1,304.6 M115.6,308.3 L115.6,304.6 M90.0,304.7 L103.0,304.7 M98.5,304.2 L111.5,304.2 M107.1,303.9 L115.6,303.9 M14.0,342.7 L14.0,392.2 M14.0,342.7 L22.4,342.7 M22.4,322.8 L22.4,362.9 M22.4,322.8 L27.5,322.8 M27.5,314.0 L27.5,331.0 M27.5,314.0 L33.4,314.0 M28.4,322.5 L28.4,331.1 M29.2,331.1 L29.2,348.2 M28.4,322.5 L33.4,322.5 M29.2,331.1 L33.4,331.1 M29.2,339.6 L33.4,339.6 M29.2,348.2 L33.4,348.2 M27.5,331.0 L29.2,331.0 M22.4,362.9 L25.5,362.9 M25.5,356.7 L25.5,369.8 M25.5,356.7 L33.4,356.7 M26.2,365.3 L33.4,365.3 M26.2,373.8 L33.4,373.8 M26.2,363.3 L26.2,373.8 M14.0,392.2 L24.7,392.2 M24.7,386.6 L24.7,399.5 M24.7,399.5 L33.4,399.5 M24.7,386.6 L28.5,386.6 M28.5,382.4 L28.5,390.9 M28.5,382.4 L33.4,382.4 M28.5,390.9 L33.4,390.9" fill="none" stroke="#111" stroke-width="1.15" stroke-linecap="square"/>
<rect x="65.5" y="430.6" width="39" height="5.6" fill="url(#cb)"/>
<line x1="64.3" y1="436.6" x2="105.7" y2="436.6" stroke="#111" stroke-width="0.9"/>
<line x1="65.5" y1="436.6" x2="65.5" y2="439.2" stroke="#111" stroke-width="0.7"/>
<line x1="70.4" y1="436.6" x2="70.4" y2="438.4" stroke="#111" stroke-width="0.7"/>
<line x1="75.2" y1="436.6" x2="75.2" y2="439.2" stroke="#111" stroke-width="0.7"/>
<line x1="80.1" y1="436.6" x2="80.1" y2="438.4" stroke="#111" stroke-width="0.7"/>
<line x1="85.0" y1="436.6" x2="85.0" y2="439.2" stroke="#111" stroke-width="0.7"/>
<line x1="89.9" y1="436.6" x2="89.9" y2="438.4" stroke="#111" stroke-width="0.7"/>
<line x1="94.8" y1="436.6" x2="94.8" y2="439.2" stroke="#111" stroke-width="0.7"/>
<line x1="99.6" y1="436.6" x2="99.6" y2="438.4" stroke="#111" stroke-width="0.7"/>
<line x1="104.5" y1="436.6" x2="104.5" y2="439.2" stroke="#111" stroke-width="0.7"/>
<text x="64.0" y="447.5" text-anchor="middle" font-size="6.55">−1</text>
<text x="75.0" y="447.5" text-anchor="middle" font-size="6.55">−0.5</text>
<text x="85.0" y="447.5" text-anchor="middle" font-size="6.55">0</text>
<text x="94.5" y="447.5" text-anchor="middle" font-size="6.55">0.5</text>
<text x="104.4" y="447.5" text-anchor="middle" font-size="6.55">1</text>
<text x="85.2" y="459.3" text-anchor="middle" font-size="9.1" textLength="16.5" lengthAdjust="spacingAndGlyphs">Value</text>
<clipPath id="k1"><rect x="212.0" y="308.3" width="94.4" height="28.6"/></clipPath>
<rect x="212.0" y="308.3" width="94.4" height="28.6" fill="#9e9e9e"/>
<g clip-path="url(#k1)">
<ellipse cx="260" cy="312" rx="14" ry="6" fill="#787878" filter="url(#b3)"/>
<ellipse cx="258" cy="330" rx="8" ry="5" fill="#909090" filter="url(#b3)"/>
<ellipse cx="220" cy="318" rx="9" ry="10" fill="#aaaaaa" filter="url(#b3)"/>
<ellipse cx="292" cy="324" rx="14" ry="12" fill="#a2a2a2" filter="url(#b3)"/>
<rect x="212.0" y="308.3" width="94.4" height="28.6" filter="url(#nz)" fill="#000"/>
<rect x="233.0" y="319.6" width="13.7" height="5.4" rx="2.7" fill="#141414" opacity="0.6" filter="url(#b4)"/><rect x="233.6" y="320.2" width="12.5" height="4.2" rx="2.1" fill="#141414" filter="url(#b1)"/>
<rect x="257.9" y="313.6" width="15.2" height="11.8" rx="5.8" fill="#030303" opacity="0.6" filter="url(#b4)"/><rect x="258.5" y="314.2" width="14.0" height="10.6" rx="5.2" fill="#030303" filter="url(#b1)"/>
</g>
<rect x="212.0" y="308.3" width="94.4" height="28.6" fill="none" stroke="#333" stroke-width="0.9"/>
<clipPath id="k2"><rect x="212.0" y="340.2" width="94.4" height="28.6"/></clipPath>
<rect x="212.0" y="340.2" width="94.4" height="28.6" fill="#8e8e8e"/>
<g clip-path="url(#k2)">
<ellipse cx="296" cy="352" rx="14" ry="16" fill="#a8a8a8" filter="url(#b3)"/>
<ellipse cx="240" cy="344" rx="30" ry="4" fill="#888888" filter="url(#b3)"/>
<rect x="212.0" y="340.2" width="94.4" height="28.6" filter="url(#nz)" fill="#000"/>
<rect x="218.5" y="351.0" width="12.4" height="8.0" rx="4.0" fill="#080808" opacity="0.6" filter="url(#b4)"/><rect x="219.1" y="351.6" width="11.2" height="6.8" rx="3.4" fill="#080808" filter="url(#b1)"/>
<rect x="232.9" y="351.9" width="14.2" height="7.2" rx="3.6" fill="#080808" opacity="0.6" filter="url(#b4)"/><rect x="233.5" y="352.5" width="13.0" height="6.0" rx="3.0" fill="#080808" filter="url(#b1)"/>
<rect x="260.8" y="350.1" width="12.8" height="8.2" rx="4.1" fill="#080808" opacity="0.6" filter="url(#b4)"/><rect x="261.4" y="350.7" width="11.6" height="7.0" rx="3.5" fill="#080808" filter="url(#b1)"/>
</g>
<rect x="212.0" y="340.2" width="94.4" height="28.6" fill="none" stroke="#333" stroke-width="0.9"/>
<line x1="307" y1="324.8" x2="311.3" y2="324.8" stroke="#111" stroke-width="1"/>
<line x1="307" y1="362.4" x2="311.3" y2="362.4" stroke="#111" stroke-width="1"/>
<text class="bl" x="313.8" y="326.9">50kDa</text>
<text class="bl" x="313.8" y="364.5">50kDa</text>
<text class="bl" x="258" text-anchor="middle" y="304">32D</text>
<text class="bl" x="195.0" y="320.8" text-anchor="middle">TIP60</text>
<text class="bl" x="194.6" y="329.0" text-anchor="middle">(IB:FLAG)</text>
<text class="bl" x="199.5" y="356.0" text-anchor="middle">c-Myc</text>
<text class="bl" x="171.5" y="377.1">Empty vector</text>
<text class="bl" x="171.5" y="387.3">FLAG-TIP60</text>
<text class="bl" x="224.5" y="377.1" text-anchor="middle">+</text>
<text class="bl" x="224.5" y="387.3" text-anchor="middle">-</text>
<text class="bl" x="238.6" y="377.1" text-anchor="middle">-</text>
<text class="bl" x="238.6" y="387.3" text-anchor="middle">+</text>
<text class="bl" x="253.9" y="377.1" text-anchor="middle">+</text>
<text class="bl" x="253.9" y="387.3" text-anchor="middle">-</text>
<text class="bl" x="266.3" y="377.1" text-anchor="middle">-</text>
<text class="bl" x="266.3" y="387.3" text-anchor="middle">+</text>
<text class="bl" x="282.0" y="377.1" text-anchor="middle">+</text>
<text class="bl" x="282.0" y="387.3" text-anchor="middle">-</text>
<text class="bl" x="294.8" y="377.1" text-anchor="middle">-</text>
<text class="bl" x="294.8" y="387.3" text-anchor="middle">+</text>
<line x1="216.3" y1="391.2" x2="245.7" y2="391.2" stroke="#111" stroke-width="0.9"/>
<line x1="249.3" y1="391.2" x2="272.9" y2="391.2" stroke="#111" stroke-width="0.9"/>
<line x1="278.4" y1="391.2" x2="300.0" y2="391.2" stroke="#111" stroke-width="0.9"/>
<text class="bl" x="230.7" y="400" text-anchor="middle">Input (5%)</text>
<text class="bl" x="261.1" y="400" text-anchor="middle">IP: FLAG</text>
<text class="bl" x="289.2" y="400" text-anchor="middle">IP: IgG</text>
<clipPath id="k3"><rect x="393.3" y="309.2" width="94.2" height="23.4"/></clipPath>
<rect x="393.3" y="309.2" width="94.2" height="23.4" fill="#898989"/>
<g clip-path="url(#k3)">
<ellipse cx="470" cy="318" rx="16" ry="10" fill="#909090" filter="url(#b3)"/>
<rect x="393.3" y="309.2" width="94.2" height="23.4" filter="url(#nz)" fill="#000"/>
<rect x="410.1" y="318.0" width="17.7" height="9.2" rx="4.6" fill="#050505" opacity="0.6" filter="url(#b4)"/><rect x="410.8" y="318.6" width="16.5" height="8.0" rx="4.0" fill="#050505" filter="url(#b1)"/>
<rect x="438.7" y="317.2" width="15.2" height="8.6" rx="4.3" fill="#050505" opacity="0.6" filter="url(#b4)"/><rect x="439.3" y="317.8" width="14.0" height="7.4" rx="3.7" fill="#050505" filter="url(#b1)"/>
</g>
<rect x="393.3" y="309.2" width="94.2" height="23.4" fill="none" stroke="#333" stroke-width="0.9"/>
<clipPath id="k4"><rect x="393.3" y="339.3" width="94.2" height="28.3"/></clipPath>
<rect x="393.3" y="339.3" width="94.2" height="28.3" fill="#8a8a8a"/>
<g clip-path="url(#k4)">
<ellipse cx="470" cy="352" rx="16" ry="12" fill="#929292" filter="url(#b3)"/>
<ellipse cx="436" cy="358" rx="12" ry="6" fill="#7c7c7c" filter="url(#b3)"/>
<rect x="393.3" y="339.3" width="94.2" height="28.3" filter="url(#nz)" fill="#000"/>
<rect x="398.4" y="351.9" width="5.2" height="4.2" rx="2.1" fill="#1a1a1a" filter="url(#b2)"/>
<rect x="405.3" y="352.4" width="5.0" height="3.6" rx="1.8" fill="#1a1a1a" filter="url(#b2)"/>
<rect x="399.9" y="353.0" width="9.0" height="2.2" rx="1.1" fill="#1a1a1a" filter="url(#b2)"/>
<path d="M414.2,353.0 L424.4,354.3 L424.4,356.5 L414.2,355.3 Z" fill="#1c1c1c" filter="url(#b2)"/>
<rect x="430.4" y="347.9" width="12.0" height="12.2" rx="5.2" fill="#181818" filter="url(#b2)"/>
<rect x="429.4" y="353.8" width="12.8" height="6.0" rx="2.8" fill="#181818" filter="url(#b2)"/>
<rect x="437.6" y="344.5" width="1.5" height="7.0" rx="3.5" fill="#2a2a2a" filter="url(#b2)"/>
<rect x="443.8" y="350.7" width="9.4" height="4.4" rx="2.2" fill="#1a1a1a" filter="url(#b2)"/>
<rect x="444.4" y="356.0" width="8.8" height="3.0" rx="1.5" fill="#1a1a1a" filter="url(#b2)"/>
<rect x="444.1" y="352.7" width="1.8" height="5.0" rx="2.5" fill="#2a2a2a" filter="url(#b2)"/>
</g>
<rect x="393.3" y="339.3" width="94.2" height="28.3" fill="none" stroke="#333" stroke-width="0.9"/>
<line x1="487.6" y1="330.5" x2="491.5" y2="330.5" stroke="#111" stroke-width="1"/>
<line x1="487.6" y1="361.8" x2="491.5" y2="361.8" stroke="#111" stroke-width="1"/>
<text class="bl" x="494.3" y="332.5">50kDa</text>
<text class="bl" x="494.3" y="363.8">50kDa</text>
<text class="bl" x="437" y="304.4" text-anchor="middle">32D</text>
<text class="bl" x="375.5" y="320.9" text-anchor="middle">TIP60</text>
<text class="bl" x="375.2" y="329.1" text-anchor="middle">(IB:FLAG)</text>
<text class="bl" x="380.5" y="357.2" text-anchor="middle">c-Myc</text>
<text class="bl" x="350.4" y="377.1">Empty vector</text>
<text class="bl" x="350.4" y="387.3">FLAG-TIP60</text>
<text class="bl" x="404.3" y="377.1" text-anchor="middle">+</text>
<text class="bl" x="404.3" y="387.3" text-anchor="middle">-</text>
<text class="bl" x="417.7" y="377.1" text-anchor="middle">-</text>
<text class="bl" x="417.7" y="387.3" text-anchor="middle">+</text>
<text class="bl" x="436.3" y="377.1" text-anchor="middle">+</text>
<text class="bl" x="436.3" y="387.3" text-anchor="middle">-</text>
<text class="bl" x="447.8" y="377.1" text-anchor="middle">-</text>
<text class="bl" x="447.8" y="387.3" text-anchor="middle">+</text>
<text class="bl" x="464.8" y="377.1" text-anchor="middle">+</text>
<text class="bl" x="464.8" y="387.3" text-anchor="middle">-</text>
<text class="bl" x="477.2" y="377.1" text-anchor="middle">-</text>
<text class="bl" x="477.2" y="387.3" text-anchor="middle">+</text>
<line x1="397.1" y1="391.2" x2="425.6" y2="391.2" stroke="#111" stroke-width="0.9"/>
<line x1="429.8" y1="391.2" x2="455.0" y2="391.2" stroke="#111" stroke-width="0.9"/>
<line x1="460.9" y1="391.2" x2="481.1" y2="391.2" stroke="#111" stroke-width="0.9"/>
<text class="bl" x="411.2" y="400" text-anchor="middle">Input (5%)</text>
<text class="bl" x="442.2" y="400" text-anchor="middle">IP: c-Myc</text>
<text class="bl" x="471.3" y="400" text-anchor="middle">IP: IgG</text>
<path d="M0,0H520V468H0Z M1.2,0.9V466.8H518.6V0.9Z" fill="#000" fill-rule="evenodd"/>
</svg></body></html>
